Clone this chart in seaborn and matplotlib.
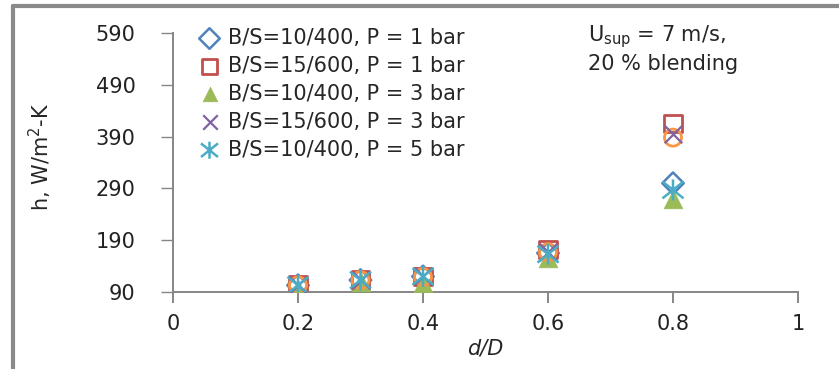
import numpy as np
import pandas as pd
import matplotlib
matplotlib.use("Agg")
import matplotlib.pyplot as plt
from matplotlib.lines import Line2D
from matplotlib.path import Path
from matplotlib.markers import MarkerStyle
import seaborn as sns

# ---- data ----
d_over_D = [0.2, 0.3, 0.4, 0.6, 0.8]
h_bs10_p1 = [103, 113, 120, 165, 300]
h_bs15_p1 = [103, 113, 120, 172, 415]
h_bs10_p3 = [96, 110, 108, 155, 270]
h_bs15_p3 = [103, 113, 120, 168, 395]
h_bs10_p5 = [103, 113, 120, 163, 287]
h_extra = [103, 113, 119, 167, 388]

labels = ["B/S=10/400, P = 1 bar", "B/S=15/600, P = 1 bar", "B/S=10/400, P = 3 bar",
          "B/S=15/600, P = 3 bar", "B/S=10/400, P = 5 bar"]
x_ticks = [0, 0.2, 0.4, 0.6, 0.8, 1]
x_ticklabels = ["0", "0.2", "0.4", "0.6", "0.8", "1"]
y_ticks = [90, 190, 290, 390, 490, 590]

sns.set_theme(style="white")
plt.rcParams['font.family'] = ['DejaVu Sans']

fig = plt.figure(figsize=(8.39, 3.69), dpi=100)
ax = fig.add_axes([173/839, 1-292/369, (798-173)/839, (292-33)/369])

# asterisk marker: x plus vertical line
ast_path = Path([(-1, -0.8), (1, 0.8), (-1, 0.8), (1, -0.8), (0, -1.0), (0, 1.0)],
                [Path.MOVETO, Path.LINETO, Path.MOVETO, Path.LINETO, Path.MOVETO, Path.LINETO])
ast_marker = MarkerStyle(ast_path, fillstyle="none")

blue, red, green, purple, cyan, orange = "#4F81BD", "#C0504D", "#9BBB59", "#8064A2", "#4BACC6", "#F79646"

sns.scatterplot(x=d_over_D, y=h_bs10_p1, ax=ax, marker="D", s=120, facecolor="none",
                edgecolor=blue, linewidth=1.8, label=labels[0], zorder=3)
sns.scatterplot(x=d_over_D, y=h_bs15_p1, ax=ax, marker="s", s=160, facecolor="none",
                edgecolor=red, linewidth=2.0, label=labels[1], zorder=3)
sns.scatterplot(x=d_over_D, y=h_bs10_p3, ax=ax, marker="^", s=180, color=green,
                edgecolor=green, linewidth=0.5, label=labels[2], zorder=3)
sns.scatterplot(x=d_over_D, y=h_extra, ax=ax, marker="o", s=150, facecolor="none",
                edgecolor=orange, linewidth=2.0, label="_nolegend_", zorder=3)
sns.scatterplot(x=d_over_D, y=h_bs15_p3, ax=ax, marker="x", s=160, color=purple,
                linewidth=1.6, label=labels[3], zorder=3)
sns.scatterplot(x=d_over_D, y=h_bs10_p5, ax=ax, marker=ast_marker, s=230, color=cyan,
                linewidth=1.8, label=labels[4], zorder=3)

ax.set_xlim(0, 1)
ax.set_ylim(90, 590)
ax.set_xticks(x_ticks)
ax.set_xticklabels(x_ticklabels)
ax.set_yticks(y_ticks)
ax.set_yticklabels([str(v) for v in y_ticks])

spine_col = "#868686"
for side in ["top", "right"]:
    ax.spines[side].set_visible(False)
for side in ["left", "bottom"]:
    ax.spines[side].set_color(spine_col)
    ax.spines[side].set_linewidth(1.4)
ax.tick_params(axis="x", direction="out", length=8, width=1.4, color=spine_col,
               labelsize=15, pad=8, bottom=True)
ax.tick_params(axis="y", direction="out", length=9, width=1.0, color=spine_col,
               labelsize=15, pad=18, left=True)
for t in ax.get_xticklabels() + ax.get_yticklabels():
    t.set_color("#222222")

ax.set_xlabel("d/D", fontsize=15, style="italic", labelpad=3)
ax.set_ylabel(r"h, W/m$^{2}$-K", fontsize=15, labelpad=4)
ax.yaxis.set_label_coords(-0.19, 0.52)

leg = ax.legend(loc="upper left", bbox_to_anchor=(197/839, 1-28/369), bbox_transform=fig.transFigure,
                frameon=False, fontsize=15, handletextpad=0.3, labelspacing=0.38,
                borderaxespad=0, handlelength=1.2, borderpad=0)
for h, sz in zip(leg.legend_handles, [110, 110, 110, 110, 150]):
    try:
        h.set_sizes([sz])
    except Exception:
        pass

fig.text(588/839, 1-37/369, r"U$_{\mathrm{sup}}$ = 7 m/s,", fontsize=15, va="center", ha="left")
fig.text(588/839, 1-64/369, "20 % blending", fontsize=15, va="center", ha="left")

# outer border (top and left visible)
fig.add_artist(Line2D([13/839, 13/839], [0, 1-6/369], transform=fig.transFigure, color="#8a8a8a", lw=3))
fig.add_artist(Line2D([13/839, 1], [1-6/369, 1-6/369], transform=fig.transFigure, color="#8a8a8a", lw=3))

fig.savefig("out.png", dpi=100)
